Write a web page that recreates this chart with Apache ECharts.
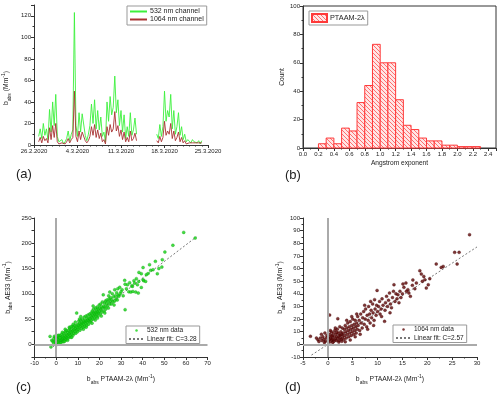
<!DOCTYPE html>
<html>
<head>
<meta charset="utf-8">
<script src="https://cdn.jsdelivr.net/npm/echarts@6/dist/echarts.min.js"></script>
<style>
  html, body { margin: 0; padding: 0; background: #fff; }
  #chart { width: 500px; height: 397px; }
</style>
</head>
<body>
<div id="chart"></div>
<script>
// ---- (a) absorption time series, 6-hourly values, x = days since 26.2.2020
const dateTicks = ['26.2.2020', '4.3.2020', '11.3.2020', '18.3.2020', '25.3.2020'];
const stepDays = 0.25;
const segStart = [0.75, 19.75];
const green532a = [8, 15, 6, 20, 9, 15, 5, 33, 12, 40, 18, 47, 8, 3, 2, 5, 1, 3, 6, 13, 4, 10, 14, 123,
  18, 8, 30, 12, 29, 30, 9, 4, 10, 18, 38, 20, 42, 15, 32, 14, 26, 8, 12, 3, 40, 22, 45, 28, 35, 64,
  30, 42, 18, 32, 12, 28, 6, 17, 8, 30, 9, 14, 25, 10];
const green532b = [10, 6, 19, 8, 17, 50, 22, 32, 26, 47, 15, 32, 10, 17, 30, 9, 17, 5, 10, 3, 5, 4, 2, 5,
  3, 4, 2, 4, 1, 4];
const red1064a = [3, 7, 2, 8, 4, 6, 2, 16, 5, 18, 7, 20, 3, 1, 1, 2, 0.5, 1, 3, 6, 2, 5, 7, 50,
  8, 3, 13, 5, 12, 13, 4, 2, 4, 8, 17, 9, 19, 7, 14, 6, 11, 3, 5, 1, 17, 9, 19, 12, 15, 31,
  13, 18, 8, 14, 5, 12, 3, 7, 3, 13, 4, 6, 11, 4];
const red1064b = [4, 2, 8, 3, 7, 22, 9, 13, 10, 20, 6, 13, 4, 7, 12, 3, 7, 2, 4, 1, 2, 2, 1, 2,
  1, 2, 1, 2, 0.5, 2];

// ---- (b) Angstrom exponent histogram
const binLeft = [0.2, 0.3, 0.4, 0.5, 0.6, 0.7, 0.8, 0.9, 1.0, 1.1, 1.2, 1.3, 1.4, 1.5, 1.6, 1.7, 1.8, 1.9, 2.0, 2.1, 2.2];
const binWidth = 0.1;
const binCounts = [3, 7, 3, 14, 12, 32, 44, 73, 60, 60, 34, 16, 13, 7, 5, 5, 2, 2, 1, 1, 1];

// ---- (c) 532 nm: PTAAM-2λ vs AE33
const pts532 = [
  [-2.8, 15.8], [-2.0, 8], [-2.4, -5], [-1.5, 6], [-1.0, 12], [-0.5, 5], [-0.8, 16], [-0.3, 9], [-1.2, 3], [0, 2],
  [0.3, 7], [0.5, 12], [0.8, 4], [1.0, 10], [1.2, 15], [1.4, 6], [1.6, 9], [1.8, 18], [2.0, 5], [2.1, 12],
  [2.3, 8], [2.5, 14], [2.6, 20], [2.8, 6], [3.0, 10], [3.1, 16], [3.3, 12], [3.5, 22], [3.6, 8], [3.8, 14],
  [4.0, 18], [4.1, 11], [4.3, 25], [4.5, 15], [4.6, 9], [4.8, 20], [5.0, 13], [0.4, 0], [1.5, 2], [2.2, 3],
  [3.4, 5], [4.2, 30], [1.1, 18], [0.2, 15], [2.9, 24], [3.9, 6], [4.7, 27], [0.6, 17], [1.7, 13], [-0.2, 14],
  [5.2, 18], [5.4, 24], [5.5, 12], [5.7, 28], [5.9, 20], [6.0, 15], [6.2, 22], [6.3, 32], [6.5, 18], [6.6, 26],
  [6.8, 14], [7.0, 24], [7.1, 30], [7.3, 20], [7.5, 36], [7.6, 26], [7.8, 18], [8.0, 28], [8.1, 34], [8.3, 22],
  [8.5, 30], [8.6, 38], [8.8, 26], [9.0, 32], [9.1, 22], [9.3, 36], [9.5, 62], [9.6, 28], [9.8, 34], [10.0, 40],
  [6.1, 34], [7.2, 14], [8.9, 44], [5.3, 8], [9.9, 25], [7.9, 40], [6.9, 35],
  [10.2, 30], [10.4, 38], [10.5, 46], [10.7, 34], [10.9, 42], [11.0, 28], [11.2, 36], [11.3, 48], [11.5, 40], [11.7, 32],
  [11.8, 44], [12.0, 38], [12.2, 50], [12.3, 42], [12.5, 34], [12.7, 46], [12.8, 40], [13.0, 54], [13.2, 44], [13.3, 36],
  [13.5, 48], [13.7, 42], [13.8, 56], [14.0, 46], [14.2, 38], [14.3, 52], [14.5, 44], [14.7, 58], [14.8, 48], [15.0, 40],
  [11.4, 55], [12.6, 30], [13.9, 34], [10.8, 50],
  [15.2, 52], [15.4, 46], [15.5, 60], [15.7, 50], [15.9, 44], [16.0, 56], [16.2, 62], [16.3, 48], [16.5, 54], [16.7, 66],
  [16.8, 58], [17.0, 50], [17.2, 62], [17.3, 70], [17.5, 56], [17.7, 64], [17.8, 52], [18.0, 60], [18.2, 72], [18.4, 64],
  [18.5, 56], [18.7, 68], [18.9, 60], [19.0, 74], [19.2, 64], [19.4, 56], [19.5, 70], [19.7, 62], [19.9, 78], [20.0, 66],
  [16.6, 42], [18.1, 48], [17.1, 76], [19.1, 52],
  [20.2, 72], [20.4, 60], [20.6, 80], [20.8, 68], [21.0, 74], [21.2, 64], [21.4, 84], [21.6, 72], [21.8, 98], [22.0, 76],
  [22.2, 66], [22.4, 82], [22.6, 74], [22.8, 86], [23.0, 70], [23.3, 80], [23.5, 88], [23.7, 76], [24.0, 84], [24.2, 72],
  [24.5, 90], [24.8, 80], [24.8, 103.5], [25.0, 86], [20.9, 56], [22.5, 62], [24.3, 96],
  [25.3, 92], [25.5, 80], [25.8, 88], [26.0, 100], [26.3, 84], [26.6, 94], [27.1, 86], [27.1, 108], [27.4, 96], [27.8, 90],
  [28.0, 102], [28.3, 88], [28.7, 97], [29.0, 95], [29.4, 112.8], [29.6, 100], [30.0, 104], [26.8, 78], [28.5, 110],
  [30.5, 108], [31.0, 96], [31.7, 126.6], [31.9, 119], [31.9, 68.6], [32.5, 110], [33.0, 118], [33.6, 104], [34.5, 103.5], [35.0, 116],
  [35.5, 104.8], [36.0, 126], [36.3, 121], [36.8, 103.5], [37.1, 130], [37.6, 118], [38.0, 101.5], [38.3, 142.4], [39.4, 112.7], [39.4, 139.8],
  [40.2, 128], [40.2, 152], [38.2, 124.6], [35.3, 114.7], [34.0, 122],
  [40.5, 126], [41.4, 124.6], [41.7, 137.9], [43.2, 157.6], [43.7, 146.4], [44.8, 147.7], [45.9, 164.2], [46.8, 139.7], [48.9, 153], [49.1, 167.5],
  [50.3, 182.7], [54.0, 196], [59.0, 221.5], [64.3, 210.4], [42.5, 140], [47.5, 150]
];
const fit532 = [[-1.5, -4.9], [64.8, 212.5]];

// ---- (d) 1064 nm: PTAAM-2λ vs AE33
const pts1064 = [
  [-3.5, 6.4], [-2.0, 3.7], [-1.8, 2.2], [-1.5, 5], [-1.2, 3], [-1.0, 6], [-0.8, 4], [-0.6, 9], [-0.5, 2.5], [-0.3, 5],
  [-0.2, 7], [-1.3, 8], [-0.7, 1.5], [-2.3, 5],
  [0.1, 3], [0.2, 6], [0.3, 4], [0.36, 23.2], [0.4, 8], [0.5, 2], [0.6, 5], [0.7, 10], [0.8, 3.5], [0.9, 7],
  [1.0, 4], [1.1, 9], [1.2, 2.5], [1.3, 6], [1.4, 11], [1.5, 4], [1.6, 8], [1.7, 3], [1.8, 6], [1.9, 12],
  [2.0, 20.3], [2.0, 5], [2.1, 9], [2.2, 3], [2.3, 7], [2.4, 14], [2.5, 5], [2.6, 10], [2.7, 4], [2.8, 8],
  [2.9, 13], [3.0, 6], [0.5, 11], [1.0, 1.5], [1.5, 13], [2.2, 1.8], [2.8, 2.5], [0.8, 6.5], [1.8, 9.5], [2.5, 7.5],
  [3.1, 9], [3.2, 4], [3.3, 12], [3.4, 7], [3.5, 15], [3.6, 10], [3.7, 5], [3.8, 13], [3.9, 8], [4.0, 17],
  [4.1, 11], [4.2, 6], [4.3, 14], [4.4, 9], [4.5, 18], [4.6, 12], [4.7, 7], [4.8, 15], [4.9, 10], [5.0, 20],
  [5.1, 13], [5.2, 8], [5.3, 16], [5.4, 11], [5.5, 19], [5.6, 14], [5.7, 9], [5.8, 17], [5.9, 12], [6.0, 22],
  [3.5, 2], [4.5, 3.5], [5.5, 6], [3.8, 19], [4.8, 22], [5.8, 24],
  [6.1, 15], [6.3, 19], [6.4, 11], [6.6, 24], [6.7, 17], [6.9, 13], [7.0, 21], [7.2, 26], [7.3, 16], [7.5, 20],
  [7.6, 28], [7.8, 14], [7.9, 23], [8.1, 19], [8.2, 30], [8.4, 24], [8.5, 17], [8.7, 27], [8.8, 21], [9.0, 32],
  [9.1, 25], [9.3, 19], [9.4, 35.4], [9.5, 28], [9.7, 23], [9.9, 42.7], [9.8, 31], [10.0, 26], [6.5, 8], [8.0, 12],
  [9.2, 15], [7.4, 31], [8.6, 34],
  [10.2, 30], [10.4, 34], [10.5, 24], [10.7, 28], [10.9, 36], [11.1, 31], [11.4, 18.2], [11.5, 27], [11.6, 33], [11.8, 38],
  [12.0, 30], [12.2, 35], [12.4, 40.6], [12.6, 32], [12.8, 29], [13.0, 37], [13.3, 47.2], [13.5, 34], [13.7, 40], [13.9, 36],
  [14.1, 39.3], [14.3, 33], [14.5, 42], [14.7, 37], [15.0, 40], [10.8, 22], [12.5, 25], [13.2, 42],
  [15.1, 47.8], [15.3, 45.1], [15.7, 48.6], [15.8, 42], [16.1, 43.3], [16.3, 40.6], [17.0, 46.7], [17.1, 51], [17.8, 48.6], [18.5, 58.3],
  [18.8, 55.7], [19.0, 49.9], [19.3, 53.8], [19.5, 51.2], [19.8, 44.6], [20.2, 47.2], [16.6, 38], [17.5, 44],
  [21.8, 63.6], [22.8, 60.9], [23.2, 61.7], [25.5, 72.8], [26.4, 72.8], [26.0, 63.6], [28.5, 86.8], [20.5, 52]
];
const fit1064 = [[-3.3, -8.5], [30, 77.1]];

// ------------------------------------------------------------
const FONT = 'Liberation Sans, Arial, sans-serif';
const chart = echarts.init(document.getElementById('chart'));

function segment(start, vals) {
  return vals.map((v, i) => [start + i * stepDays, v]);
}
const line532 = segment(segStart[0], green532a).concat([[18, null]], segment(segStart[1], green532b));
const line1064 = segment(segStart[0], red1064a).concat([[18, null]], segment(segStart[1], red1064b));
const histData = binLeft.map((b, i) => [b, b + binWidth, binCounts[i]]);

// hatched fill like the original bars
const hatch = document.createElement('canvas');
hatch.width = 4; hatch.height = 4;
const hc = hatch.getContext('2d');
hc.fillStyle = '#ffe6e6';
hc.fillRect(0, 0, 4, 4);
hc.strokeStyle = '#ff7070';
hc.lineWidth = 1;
hc.beginPath();
hc.moveTo(0, 0); hc.lineTo(4, 4);
hc.moveTo(-2, 2); hc.lineTo(2, 6);
hc.moveTo(2, -2); hc.lineTo(6, 2);
hc.stroke();
const hatchFill = { image: hatch, repeat: 'repeat' };

const richName = {
  s: { fontSize: 5, fontFamily: FONT, color: '#222', verticalAlign: 'bottom', lineHeight: 5 },
  p: { fontSize: 5, fontFamily: FONT, color: '#222', verticalAlign: 'top', lineHeight: 5 }
};
const nameStyle = { fontSize: 6.8, fontFamily: FONT, color: '#222', lineHeight: 11, rich: richName };

function axisBase(extra) {
  return Object.assign({
    type: 'value',
    axisLine: { onZero: false, lineStyle: { color: '#333', width: 1 } },
    axisTick: { length: 3, lineStyle: { color: '#333' } },
    minorTick: { show: true, splitNumber: 2, length: 1.5, lineStyle: { color: '#333' } },
    axisLabel: { fontSize: 6, fontFamily: FONT, color: '#222', margin: 3 },
    splitLine: { show: false },
    nameTextStyle: nameStyle
  }, extra);
}

// a line-only legend entry (hide the marker, keep the series line)
const lineOnly = name => ({ name: name, itemStyle: { opacity: 0 } });
const dotOnly = name => ({ name: name, icon: 'circle', itemStyle: { borderWidth: 0 } });

const option = {
  animation: false,
  backgroundColor: '#fff',
  title: [
    { text: '(a)', left: 16, top: 168 },
    { text: '(b)', left: 285, top: 169 },
    { text: '(c)', left: 16, top: 381 },
    { text: '(d)', left: 285, top: 381 }
  ].map(t => Object.assign(t, { padding: 0, textStyle: { fontSize: 13, fontWeight: 'normal', fontFamily: FONT, color: '#222' } })),
  grid: [
    { left: 34, top: 5, width: 174, height: 140 },
    { left: 303, top: 6, width: 193, height: 142, show: true, borderColor: '#333', borderWidth: 1 },
    { left: 34.5, top: 218, width: 173, height: 139 },
    { left: 303, top: 218, width: 174, height: 139 }
  ],
  legend: [
    {
      data: [lineOnly('532 nm channel'), lineOnly('1064 nm channel')],
      left: 127, top: 6, orient: 'vertical',
      itemWidth: 17, itemHeight: 7, itemGap: 1, padding: [2, 3, 2, 2],
      borderColor: '#999', borderWidth: 1, borderRadius: 0, backgroundColor: '#fff',
      textStyle: { fontSize: 7, fontFamily: FONT, color: '#222', padding: [0, 0, 0, -2] }
    },
    {
      data: [{ name: 'PTAAM-2λ', icon: 'rect' }], left: 309, top: 11,
      itemWidth: 15, itemHeight: 8, padding: [2, 3, 2, 2],
      borderColor: '#999', borderWidth: 1, borderRadius: 0, backgroundColor: '#fff',
      textStyle: { fontSize: 7.3, fontFamily: FONT, color: '#222', padding: [0, 0, 0, -2] }
    },
    {
      data: [dotOnly('532 nm data'), lineOnly('Linear fit: C=3.28')],
      left: 126, top: 326, orient: 'vertical',
      itemWidth: 15, itemHeight: 2.5, itemGap: 1.5, padding: [1, 3, 1, 2],
      borderColor: '#999', borderWidth: 1, borderRadius: 0, backgroundColor: '#fff',
      textStyle: { fontSize: 6.5, fontFamily: FONT, color: '#222', padding: [0, 0, 0, -2] }
    },
    {
      data: [dotOnly('1064 nm data'), lineOnly('Linear fit: C=2.57')],
      left: 393, top: 325, orient: 'vertical',
      itemWidth: 15, itemHeight: 2.5, itemGap: 1.5, padding: [1, 3, 1, 2],
      borderColor: '#999', borderWidth: 1, borderRadius: 0, backgroundColor: '#fff',
      textStyle: { fontSize: 6.5, fontFamily: FONT, color: '#222', padding: [0, 0, 0, -2] }
    }
  ],
  xAxis: [
    axisBase({
      gridIndex: 0, min: 0, max: 28, interval: 7,
      minorTick: { show: true, splitNumber: 7, length: 1.5, lineStyle: { color: '#333' } },
      axisLabel: { fontSize: 6, fontFamily: FONT, color: '#222', margin: 3, formatter: v => dateTicks[Math.round(v / 7)] || '' }
    }),
    axisBase({
      gridIndex: 1, min: 0, max: 2.5, interval: 0.2,
      name: 'Angstrom exponent', nameLocation: 'middle', nameGap: 12,
      nameTextStyle: { fontSize: 6.6, fontFamily: FONT, color: '#222' },
      axisLabel: { fontSize: 6, fontFamily: FONT, color: '#222', margin: 3, showMaxLabel: false, formatter: v => v.toFixed(1) }
    }),
    axisBase({
      gridIndex: 2, min: -10, max: 70, interval: 10,
      name: 'b{s|abs} PTAAM-2λ (Mm{p|-1})', nameLocation: 'middle', nameGap: 17
    }),
    axisBase({
      gridIndex: 3, min: -5, max: 30, interval: 5,
      name: 'b{s|abs} PTAAM-2λ (Mm{p|-1})', nameLocation: 'middle', nameGap: 17
    })
  ],
  yAxis: [
    axisBase({
      gridIndex: 0, min: 0, max: 130, interval: 20,
      name: 'b{s|abs} (Mm{p|-1})', nameLocation: 'middle', nameGap: 22,
      nameTextStyle: Object.assign({}, nameStyle, { padding: [0, 0, 0, -26] }),
      axisLabel: { fontSize: 6, fontFamily: FONT, color: '#222', margin: 3, showMaxLabel: false }
    }),
    axisBase({
      gridIndex: 1, min: 0, max: 100, interval: 20,
      name: 'Count', nameLocation: 'middle', nameGap: 14,
      nameTextStyle: { fontSize: 6.6, fontFamily: FONT, color: '#222' }
    }),
    axisBase({
      gridIndex: 2, min: -25, max: 250, interval: 25,
      minorTick: { show: false },
      name: 'b{s|abs} AE33 (Mm{p|-1})', nameLocation: 'middle', nameGap: 21,
      axisLabel: { fontSize: 6, fontFamily: FONT, color: '#222', margin: 3, formatter: v => (v % 50 === 0 ? String(v) : '') }
    }),
    axisBase({
      gridIndex: 3, min: -10, max: 100, interval: 10,
      name: 'b{s|abs} AE33 (Mm{p|-1})', nameLocation: 'middle', nameGap: 15
    })
  ],
  series: [
    {
      name: '532 nm channel', type: 'line', xAxisIndex: 0, yAxisIndex: 0, data: line532,
      symbol: 'none', connectNulls: false, lineStyle: { color: '#3cf03c', width: 0.9 }, itemStyle: { color: '#3cf03c' }
    },
    {
      name: '1064 nm channel', type: 'line', xAxisIndex: 0, yAxisIndex: 0, data: line1064,
      symbol: 'none', connectNulls: false, lineStyle: { color: '#a83232', width: 0.9 }, itemStyle: { color: '#a83232' }
    },
    {
      name: 'PTAAM-2λ', type: 'custom', xAxisIndex: 1, yAxisIndex: 1, data: histData,
      encode: { x: [0, 1], y: 2 },
      itemStyle: { color: hatchFill, borderColor: '#ff3a3a', borderWidth: 1 },
      renderItem: function (params, api) {
        const p0 = api.coord([api.value(0), api.value(2)]);
        const p1 = api.coord([api.value(1), 0]);
        return {
          type: 'rect',
          shape: { x: p0[0], y: p0[1], width: p1[0] - p0[0], height: p1[1] - p0[1] },
          style: { fill: hatchFill, stroke: '#ff3a3a', lineWidth: 1 }
        };
      }
    },
    {
      name: 'Linear fit: C=3.28', type: 'line', xAxisIndex: 2, yAxisIndex: 2, data: fit532, z: 1,
      symbol: 'none', lineStyle: { color: '#777', width: 1, type: [2, 2] }, itemStyle: { color: '#777' },
      markLine: {
        silent: true, symbol: 'none', label: { show: false }, animation: false,
        lineStyle: { color: '#aaa', width: 2, type: 'solid' },
        data: [{ xAxis: 0 }, { yAxis: 0 }]
      }
    },
    {
      name: '532 nm data', type: 'scatter', xAxisIndex: 2, yAxisIndex: 2, data: pts532, z: 3,
      symbol: 'circle', symbolSize: 3, itemStyle: { color: '#14d414', borderColor: '#0a9a0a', borderWidth: 0.4 }
    },
    {
      name: 'Linear fit: C=2.57', type: 'line', xAxisIndex: 3, yAxisIndex: 3, data: fit1064, z: 1,
      symbol: 'none', lineStyle: { color: '#777', width: 1, type: [2, 2] }, itemStyle: { color: '#777' },
      markLine: {
        silent: true, symbol: 'none', label: { show: false }, animation: false,
        lineStyle: { color: '#aaa', width: 2, type: 'solid' },
        data: [{ xAxis: 0 }, { yAxis: 0 }]
      }
    },
    {
      name: '1064 nm data', type: 'scatter', xAxisIndex: 3, yAxisIndex: 3, data: pts1064, z: 3,
      symbol: 'circle', symbolSize: 3, itemStyle: { color: '#5e0505', borderColor: '#400000', borderWidth: 0.4 }
    }
  ]
};

chart.setOption(option);
</script>
</body>
</html>
